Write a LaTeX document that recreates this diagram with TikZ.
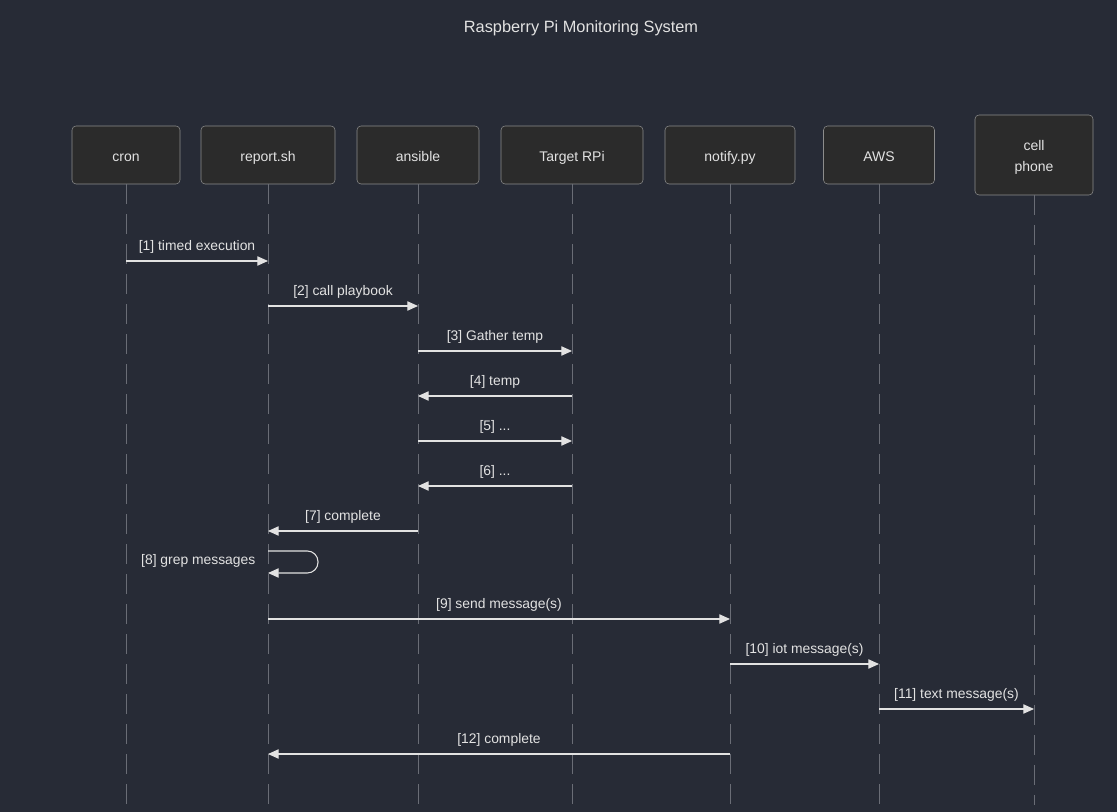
\documentclass[tikz,border=0pt]{standalone}
\usepackage{fontspec}
\setmainfont{Liberation Sans}
\usetikzlibrary{arrows.meta}
\definecolor{bg}{HTML}{272B36}
\definecolor{boxfill}{HTML}{2B2B2B}
\definecolor{boxline}{HTML}{8C8C8C}
\definecolor{ink}{HTML}{E2E2E2}
\definecolor{lifegray}{HTML}{6A6D76}

\begin{document}
\begin{tikzpicture}[x=0.75pt,y=-0.75pt,
	actor/.style={shape=rectangle,rounded corners=3pt,draw=boxline,fill=boxfill,text=ink,
		minimum height=43.5pt,inner sep=0pt,align=center,text height=10pt,text depth=0pt,
		font=\fontsize{10.5}{15.75}\selectfont},
	life/.style={draw=lifegray,line width=0.75pt,dash pattern=on 15pt off 7.5pt},
	msg/.style={draw=ink,line width=0.8pt,-{Triangle[length=8pt,width=7pt]}},
	lbl/.style={text=ink,font=\fontsize{10.4}{12}\selectfont}]
	
	\fill[bg] (0,0) rectangle (1117,812);
	\node[text=ink,font=\fontsize{12.25}{15}\selectfont] (title) at (581,28) {Raspberry Pi Monitoring System};
	
	\node[actor,minimum width=81pt]    (cron)   at (126,155)  {cron};
	\node[actor,minimum width=100.5pt] (report) at (268,155)  {report.sh};
	\node[actor,minimum width=91.5pt]  (ansible) at (418,155) {ansible};
	\node[actor,minimum width=106.5pt] (rpi)    at (572,155)  {Target RPi};
	\node[actor,minimum width=97.5pt]  (notify) at (730,155)  {notify.py};
	\node[actor,minimum width=83.25pt] (aws)    at (879,155)  {AWS};
	\node[actor,minimum width=88.5pt,minimum height=60pt,text height=25.5pt] (phone) at (1034,155) {cell\\phone};
	
	% lifelines
	\coordinate (bot) at (0,805);
	\draw[life] (cron.south)    -- (cron |- bot);
	\draw[life] (report.south)  -- (report |- bot);
	\draw[life] (ansible.south) -- (ansible |- bot);
	\draw[life] (rpi.south)     -- (rpi |- bot);
	\draw[life] (notify.south)  -- (notify |- bot);
	\draw[life] (aws.south)     -- (aws |- bot);
	\draw[life] (phone.south)   -- (phone |- bot);
	
	% message rows
	\coordinate (m1) at (0,261);
	\coordinate (m2) at (0,306);
	\coordinate (m3) at (0,351);
	\coordinate (m4) at (0,396);
	\coordinate (m5) at (0,441);
	\coordinate (m6) at (0,486);
	\coordinate (m7) at (0,531);
	\coordinate (m8a) at (0,551);
	\coordinate (m8b) at (0,573);
	\coordinate (m9) at (0,619);
	\coordinate (m10) at (0,664);
	\coordinate (m11) at (0,709);
	\coordinate (m12) at (0,754);
	
	\draw[msg] (cron |- m1)    -- node[lbl,above=2pt] {[1] timed execution} (report |- m1);
	\draw[msg] (report |- m2)  -- node[lbl,above=2pt] {[2] call playbook} (ansible |- m2);
	\draw[msg] (ansible |- m3) -- node[lbl,above=2pt] {[3] Gather temp} (rpi |- m3);
	\draw[msg] (rpi |- m4)     -- node[lbl,above=2pt] {[4] temp} (ansible |- m4);
	\draw[msg] (ansible |- m5) -- node[lbl,above=2pt] {[5] ...} (rpi |- m5);
	\draw[msg] (rpi |- m6)     -- node[lbl,above=2pt] {[6] ...} (ansible |- m6);
	\draw[msg] (ansible |- m7) -- node[lbl,above=2pt] {[7] complete} (report |- m7);
	\draw[msg,rounded corners=8pt] (report |- m8a) -- ++(50,0) -- ++(0,22) -- (report |- m8b);
	\node[lbl,anchor=east] (grep) at (260,561) {[8] grep messages};
	\draw[msg] (report |- m9)  -- node[lbl,above=2pt] {[9] send message(s)} (notify |- m9);
	\draw[msg] (notify |- m10) -- node[lbl,above=2pt] {[10] iot message(s)} (aws |- m10);
	\draw[msg] (aws |- m11)    -- node[lbl,above=2pt] {[11] text message(s)} (phone |- m11);
	\draw[msg] (notify |- m12) -- node[lbl,above=2pt] {[12] complete} (report |- m12);
	
\end{tikzpicture}
\end{document}
